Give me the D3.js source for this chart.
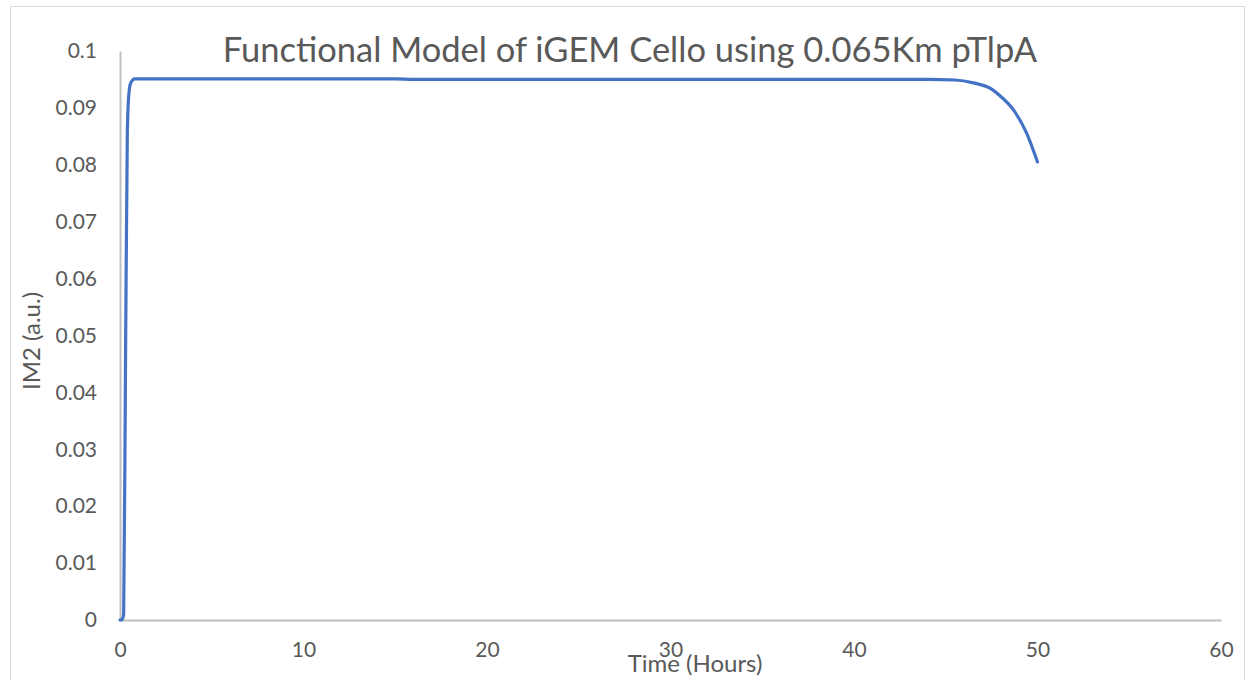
<!DOCTYPE html>
<html>
<head>
<meta charset="utf-8">
<script src="https://cdn.jsdelivr.net/npm/d3@7"></script>
<style>
  body { margin: 0; background: #fff; }
  text { font-family: Lato, "Open Sans", sans-serif; fill: #595959; }
</style>
</head>
<body>
<svg width="1248" height="680"></svg>
<script>
const title = 'Functional Model of iGEM Cello using 0.065Km pTlpA';
const xTicks = [0, 10, 20, 30, 40, 50, 60];
const yTicks = [0, 0.01, 0.02, 0.03, 0.04, 0.05, 0.06, 0.07, 0.08, 0.09, 0.1];

const time = [0, 0.1, 0.2, 0.3, 0.4, 0.5, 0.6, 0.8, 1, 5, 15, 16, 30, 44, 45.5, 46.5, 47.5, 48, 48.7, 49.4, 50];
const im2  = [0, 0, 0.001, 0.045, 0.086, 0.093, 0.0945, 0.0951, 0.0951, 0.0951, 0.0951, 0.0950, 0.0950, 0.0950, 0.0949, 0.0944, 0.0933, 0.0920, 0.0896, 0.0856, 0.0805];

const [mLeft, mRight, mTop, mBottom] = [120, 1221, 51, 620];
const svg = d3.select('svg');

svg.append('rect')
    .attr('x', 10.5).attr('y', 6.5)
    .attr('width', 1234).attr('height', 700)
    .attr('fill', 'none').attr('stroke', '#d9d9d9');

const x = d3.scaleLinear().domain([0, 60]).range([mLeft, mRight]);
const y = d3.scaleLinear().domain([0, 0.1]).range([mBottom, mTop]);

const xAxis = d3.axisBottom(x).tickValues(xTicks).tickSize(0).tickPadding(22);
const yAxis = d3.axisLeft(y).tickValues(yTicks).tickSize(0).tickPadding(23)
                .tickFormat(d => d === 0 ? '0' : String(+d.toFixed(2)));

const gx = svg.append('g').attr('transform', `translate(0,${mBottom})`).call(xAxis);
const gy = svg.append('g').attr('transform', `translate(${mLeft},0)`).call(yAxis);

[gx, gy].forEach(g => {
    g.select('.domain').attr('stroke', '#bfbfbf').attr('stroke-width', 2);
    g.selectAll('text').attr('font-size', 21).attr('fill', '#595959')
        .style('font-family', 'Lato, "Open Sans", sans-serif');
});

const line = d3.line()
    .x((d, i) => x(time[i]))
    .y(d => y(d))
    .curve(d3.curveMonotoneX);

svg.append('path')
    .datum(im2)
    .attr('d', line)
    .attr('fill', 'none')
    .attr('stroke', '#4472C4')
    .attr('stroke-width', 3.2)
    .attr('stroke-linecap', 'round')
    .attr('stroke-linejoin', 'round');

svg.append('text')
    .attr('x', 630).attr('y', 62)
    .attr('text-anchor', 'middle')
    .attr('font-size', 34.5)
    .text(title);

svg.append('text')
    .attr('x', 695).attr('y', 672)
    .attr('text-anchor', 'middle')
    .attr('font-size', 24)
    .text('Time (Hours)');

svg.append('text')
    .attr('transform', 'translate(40,341) rotate(-90)')
    .attr('text-anchor', 'middle')
    .attr('font-size', 24)
    .text('IM2 (a.u.)');
</script>
</body>
</html>
